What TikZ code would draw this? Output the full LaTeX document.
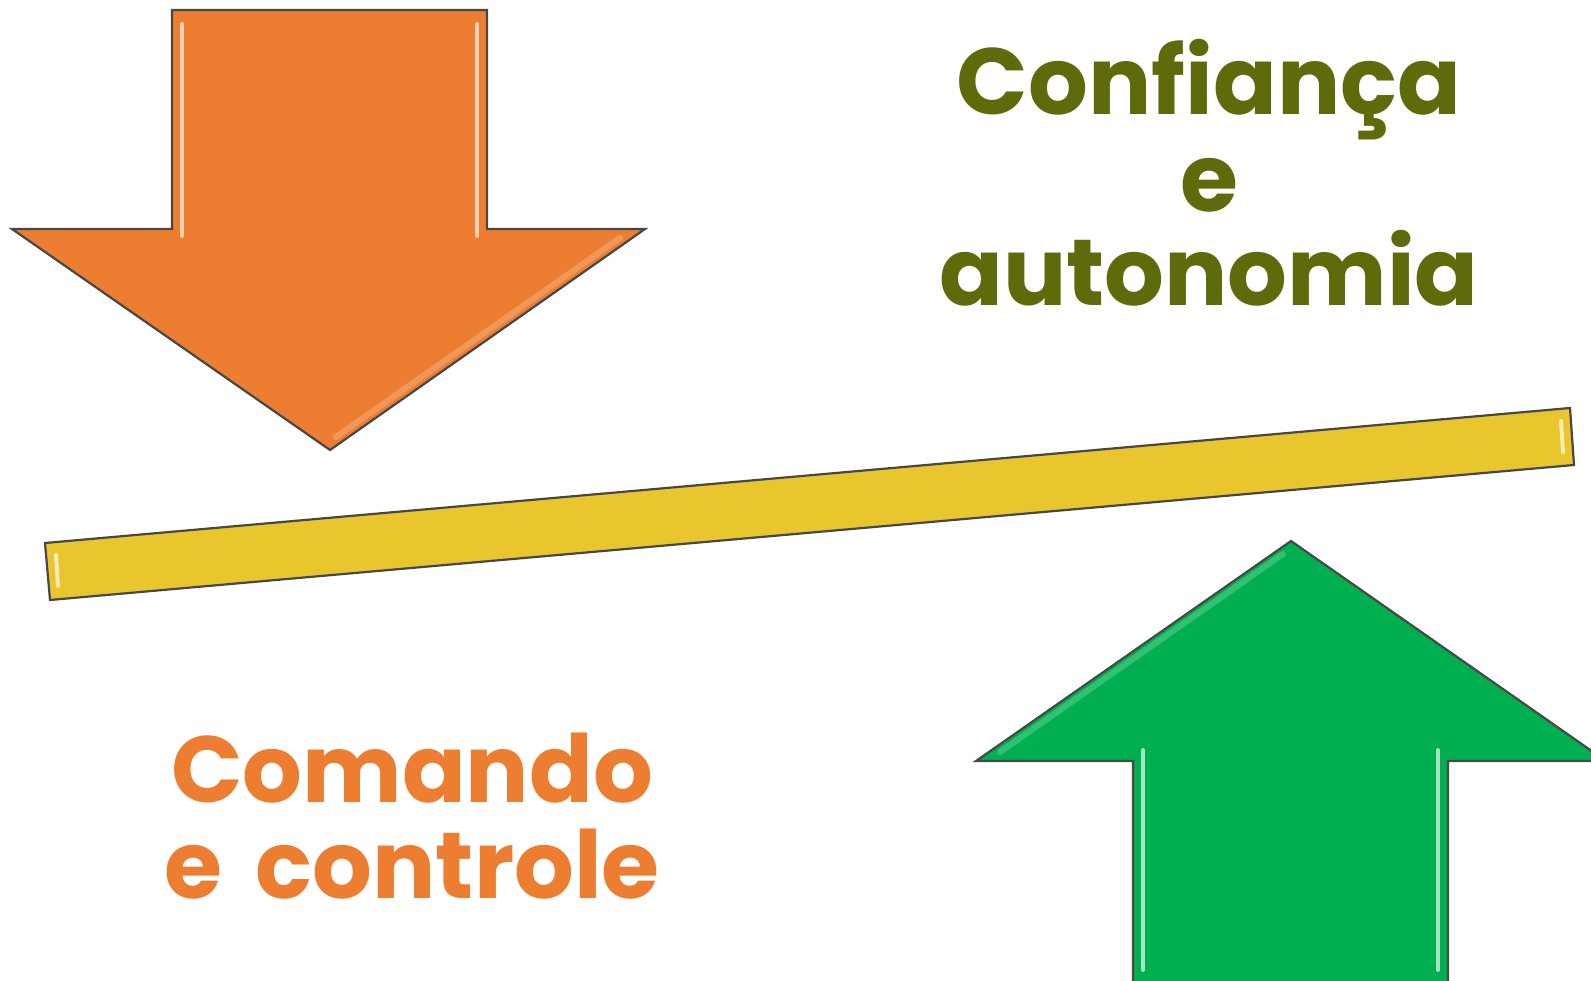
\documentclass[tikz,border=0pt]{standalone}
\usepackage{fontspec}
\setmainfont{Poppins}
\definecolor{orangeA}{HTML}{ED7D31}
\definecolor{greenA}{HTML}{00B050}
\definecolor{yellowA}{HTML}{E9C62E}
\definecolor{oliveT}{HTML}{5F6B0B}
\begin{document}
\begin{tikzpicture}[x=1pt,y=-1pt,
  shapeline/.style={draw=black!72, line width=2.2pt, line join=miter},
  hilite/.style={line width=4pt, line cap=round},
  bevel/.style={line width=6pt, line cap=round, opacity=0.5},
  bigtext/.style={anchor=base, inner sep=0pt, font=\fontsize{94}{94}\selectfont\bfseries}]
\useasboundingbox (0,0) rectangle (1591,981);
% orange arrow (down)
\path[shapeline, fill=orangeA] (172,10) -- (487,10) -- (487,229) -- (645,229) -- (330,450) -- (12,229) -- (172,229) -- cycle;
\draw[bevel, orangeA!60!white] (620,238) -- (336,437);
\draw[hilite, orangeA!35!white] (182,24) -- (182,236);
\draw[hilite, orangeA!35!white] (477,24) -- (477,236);
% yellow bar
\path[shapeline, fill=yellowA] (45,543) -- (1570,408) -- (1574,465) -- (50,600) -- cycle;
\draw[hilite, yellowA!35!white] (56,555) -- (58,586);
\draw[hilite, yellowA!35!white] (1561,421) -- (1563,452);
% green arrow (up)
\path[shapeline, fill=greenA] (1133,990) -- (1133,761) -- (976,761) -- (1291,541) -- (1606,761) -- (1448,761) -- (1448,990) -- cycle;
\draw[bevel, greenA!60!white] (1000,752) -- (1283,554);
\draw[hilite, greenA!35!white] (1143,750) -- (1143,970);
\draw[hilite, greenA!35!white] (1438,750) -- (1438,970);
% texts
\node[bigtext, text=oliveT] (t1) at (1209,115) {Confiança};
\node[bigtext, text=oliveT] (t2) at (1209,212) {e};
\node[bigtext, text=oliveT] (t3) at (1209,306) {autonomia};
\node[bigtext, text=orangeA] (t4) at (412,802) {Comando};
\node[bigtext, text=orangeA] (t5) at (412,898) {e\hspace{0.36em}controle};
\end{tikzpicture}
\end{document}
